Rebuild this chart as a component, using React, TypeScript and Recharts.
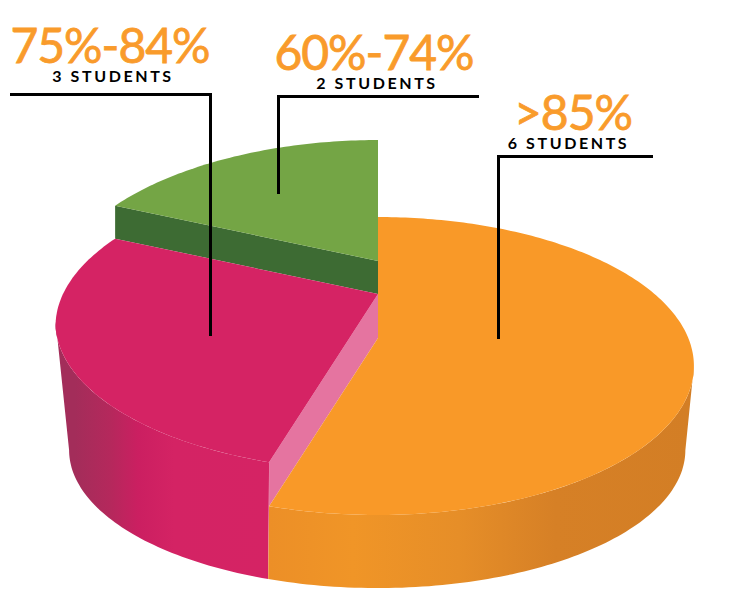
import { Pie, PieChart } from "recharts";

const categories = ["60%-74%", "75%-84%", ">85%"];
const students = [2, 3, 6];
const studentLabels = ["2 STUDENTS", "3 STUDENTS", "6 STUDENTS"];

const data = categories.map((name, i) => ({ name, value: students[i], label: studentLabels[i] }));

// fake 3D: every slice is projected from the unit circle with a small perspective term
const TOP = { k: 0.188, a: 143.7, rightScale: 0.985, rx: 1, dy: 0 };
const BASE = { k: 0.24, a: 130, rightScale: 0.995, rx: 0.952, dy: 79 };
const RAD = Math.PI / 180;

type Lens = typeof TOP;

function project(cx: number, cy: number, r: number, deg: number, lens: Lens, lift: number) {
  const x = Math.cos(deg * RAD);
  const y = -Math.sin(deg * RAD);
  const d = 1 - lens.k * y;
  // the left half of the original ellipse is slightly lopsided
  const leftBend = lens === TOP ? Math.min(1.006, 1 + 0.0265 * y) : 1;
  const rx = r * lens.rx * (x > 0 ? lens.rightScale : leftBend);
  return [cx + (x * rx) / d, cy + lens.dy - lift + (y * lens.a) / d];
}

function arc(cx: number, cy: number, r: number, from: number, to: number, lens: Lens, lift: number) {
  const pts = [];
  const steps = Math.max(2, Math.ceil(Math.abs(to - from)));
  for (let i = 0; i <= steps; i++) {
    pts.push(project(cx, cy, r, from + ((to - from) * i) / steps, lens, lift));
  }
  return pts;
}

const toPath = (pts: number[][]) =>
  "M" + pts.map((p) => `${p[0].toFixed(2)},${p[1].toFixed(2)}`).join("L") + "Z";

const lifts: Record<string, number> = { "60%-74%": 77, "75%-84%": 44, ">85%": 0 };

function Slice(props: any) {
  const { cx, cy, outerRadius: r, startAngle, endAngle, name } = props;
  const lift = lifts[name];
  const apex = [cx, cy - lift];
  const top = [apex, ...arc(cx, cy, r, startAngle, endAngle, TOP, lift)];

  if (name === "60%-74%") {
    const corner = project(cx, cy, r, endAngle, TOP, lift);
    const wall = [corner, apex, [apex[0], apex[1] + 33], [corner[0], corner[1] + 33]];
    return (
      <g>
        <path d={toPath(wall)} fill="#3d6b33" />
        <path d={toPath(top)} fill="#74a545" />
      </g>
    );
  }

  if (name === "75%-84%") {
    const outer = [
      ...arc(cx, cy, r, 190.7, endAngle, TOP, lift),
      ...arc(cx, cy, r, endAngle, 193.9, BASE, 0),
    ];
    const seam = project(cx, cy, r, endAngle, TOP, lift);
    const inner = [apex, seam, [seam[0], seam[1] + lift], [apex[0], apex[1] + lift]];
    return (
      <g>
        <path d={toPath(outer)} fill="url(#pinkWall)" />
        <path d={toPath(inner)} fill="#e574a0" />
        <path d={toPath(top)} fill="#d52364" />
      </g>
    );
  }

  const outer = [
    ...arc(cx, cy, r, startAngle, 349.2, TOP, lift),
    ...arc(cx, cy, r, 346.1, startAngle, BASE, 0),
  ];
  return (
    <g>
      <path d={toPath(outer)} fill="url(#orangeWall)" />
      <path d={toPath(top)} fill="#f99928" />
    </g>
  );
}

function Callout({ index, x, y, subX, subY, path }: any) {
  return (
    <g fontFamily="Lato">
      {/* thin stroke stands in for the semibold cut, which isn't installed */}
      <text
        x={x}
        y={y}
        textAnchor="middle"
        fontSize={48}
        letterSpacing={-1}
        fill="#f99b2b"
        stroke="#f99b2b"
        strokeWidth={0.8}
      >
        {categories[index]}
      </text>
      <text x={subX} y={subY} textAnchor="middle" fontSize={16} fontWeight={700} letterSpacing={2.6} fill="#000">
        {studentLabels[index]}
      </text>
      <path d={path} fill="none" stroke="#000" strokeWidth={3} />
    </g>
  );
}

export default function App() {
  return (
    <div style={{ position: "absolute", left: 0, top: 0, width: 750, height: 600 }}>
      <PieChart width={750} height={600} margin={{ top: 0, right: 0, bottom: 0, left: 0 }}>
        <defs>
          <linearGradient id="pinkWall" gradientUnits="userSpaceOnUse" x1={58} y1={0} x2={269} y2={0}>
            <stop offset="0.08" stopColor="#a32d5a" />
            <stop offset="0.25" stopColor="#b5285c" />
            <stop offset="0.38" stopColor="#cb1f61" />
            <stop offset="0.55" stopColor="#d42364" />
            <stop offset="1" stopColor="#d52364" />
          </linearGradient>
          <linearGradient id="orangeWall" gradientUnits="userSpaceOnUse" x1={269} y1={0} x2={690} y2={0}>
            <stop offset="0" stopColor="#ec8f27" />
            <stop offset="0.2" stopColor="#f09527" />
            <stop offset="0.45" stopColor="#e68e28" />
            <stop offset="0.68" stopColor="#d68026" />
            <stop offset="1" stopColor="#d37e25" />
          </linearGradient>
        </defs>
        <Pie
          data={data}
          dataKey="value"
          nameKey="name"
          cx={378}
          cy={338}
          outerRadius={315}
          startAngle={90}
          endAngle={450}
          stroke="none"
          shape={Slice}
          isAnimationActive={false}
        />
      </PieChart>
      {/* recharts paints the pie over its svg children, so the callouts get their own layer */}
      <svg width={750} height={600} style={{ position: "absolute", left: 0, top: 0 }}>
        <Callout index={1} x={110} y={63} subX={113} subY={82} path="M10,94.5H210.5V336" />
        <Callout index={0} x={374} y={70} subX={377} subY={89} path="M479,96.5H278.5V194" />
        <Callout index={2} x={573} y={130} subX={568.5} subY={149} path="M653,156.5H498.5V339" />
      </svg>
    </div>
  );
}
